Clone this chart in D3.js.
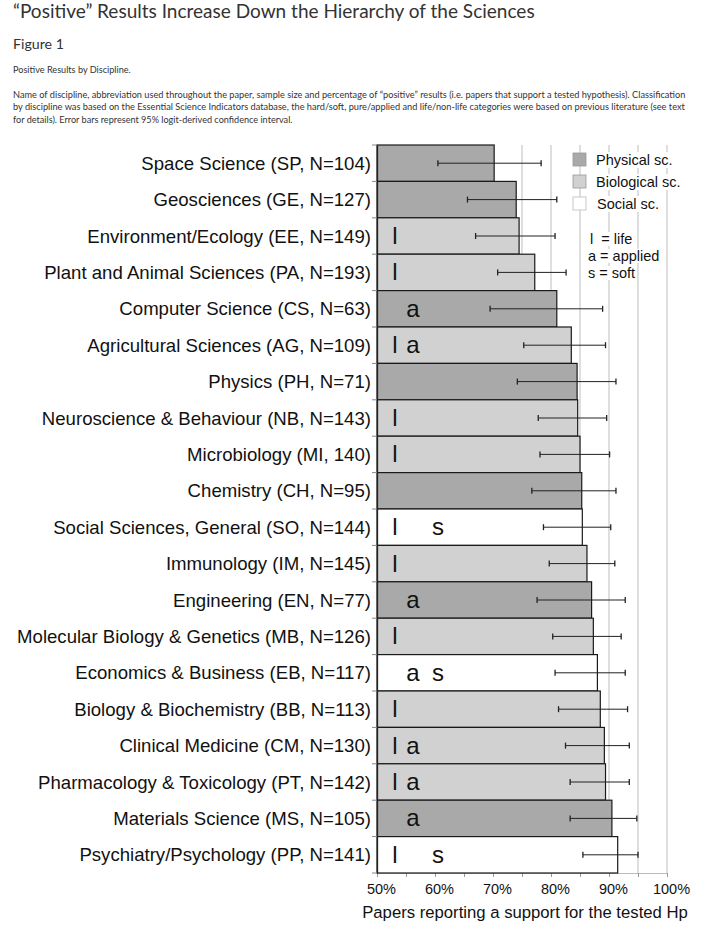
<!DOCTYPE html>
<html><head><meta charset="utf-8">
<script src="https://cdn.jsdelivr.net/npm/d3@7/dist/d3.min.js"></script>
<style>
html,body{margin:0;padding:0;background:#fff;}
svg{display:block;}
</style></head>
<body>
<svg id="c" width="714" height="926"></svg>
<script>
const disciplines = ["Space Science (SP, N=104)","Geosciences (GE, N=127)","Environment/Ecology (EE, N=149)","Plant and Animal Sciences (PA, N=193)","Computer Science (CS, N=63)","Agricultural Sciences (AG, N=109)","Physics (PH, N=71)","Neuroscience & Behaviour (NB, N=143)","Microbiology (MI, 140)","Chemistry (CH, N=95)","Social Sciences, General (SO, N=144)","Immunology (IM, N=145)","Engineering (EN, N=77)","Molecular Biology & Genetics (MB, N=126)","Economics & Business (EB, N=117)","Biology & Biochemistry (BB, N=113)","Clinical Medicine (CM, N=130)","Pharmacology & Toxicology (PT, N=142)","Materials Science (MS, N=105)","Psychiatry/Psychology (PP, N=141)"];
const values = [70.2,74.0,74.5,77.2,81.0,83.5,84.5,84.6,85.0,85.3,85.4,86.2,87.0,87.3,88.0,88.5,89.2,89.4,90.5,91.5];
const ciLow  = [60.5,65.6,67.0,70.8,69.5,75.3,74.2,77.8,78.1,76.7,78.7,79.7,77.6,80.3,80.7,81.3,82.5,83.3,83.3,85.5];
const ciHigh = [78.3,81.0,80.7,82.6,88.9,89.4,91.2,89.6,90.1,91.2,90.3,91.0,92.8,92.1,92.8,93.2,93.5,93.5,94.8,95.0];
const groups = ["Physical","Physical","Biological","Biological","Physical","Biological","Physical","Biological","Biological","Physical","Social","Biological","Physical","Biological","Social","Biological","Biological","Biological","Physical","Social"];
const flags  = ["","","l","l","a","la","","l","l","","ls","l","a","l","as","l","la","la","a","ls"];
const legendLabels = ["Physical sc.","Biological sc.","Social sc."];
const legendGroups = ["Physical","Biological","Social"];
const keyLines = ["l  = life","a = applied","s = soft"];
const xTicks = [50,60,70,80,90,100];
const gridTicks = [55,60,65,70,75,80,85,90,95,100];

const svg = d3.select("#c");
const color = d3.scaleOrdinal().domain(legendGroups).range(["#a9a9a9","#d1d1d1","#ffffff"]);

// header
const hdr = svg.append("g").attr("fill","#333");
function fit(sel, w){ const n=sel.node(); const cur=n.getComputedTextLength(); const fs=parseFloat(sel.attr("font-size")); sel.attr("font-size", fs*w/cur); }
const t1 = hdr.append("text").attr("x",13).attr("y",18).attr("font-family","Lato").attr("font-size",18).text("\u201cPositive\u201d Results Increase Down the Hierarchy of the Sciences");
fit(t1,522);
const t2 = hdr.append("text").attr("x",13).attr("y",49).attr("font-family","Lato").attr("font-size",13).text("Figure 1");
fit(t2,51);
const t3 = hdr.append("text").attr("x",13).attr("y",73).attr("font-family","Lato").attr("font-size",8).text("Positive Results by Discipline.");
fit(t3,118);
const capLines = ["Name of discipline, abbreviation used throughout the paper, sample size and percentage of \u201cpositive\u201d results (i.e. papers that support a tested hypothesis). Classification",
"by discipline was based on the Essential Science Indicators database, the hard/soft, pure/applied and life/non-life categories were based on previous literature (see text",
"for details). Error bars represent 95% logit-derived confidence interval."];
const capW = [673,673,280];
capLines.forEach((s,i)=>{
  const t = hdr.append("text").attr("x",13).attr("y",98+i*12.3).attr("font-family","Lato").attr("font-size",8).text(s);
  fit(t,capW[i]);
});

// chart
const x = d3.scaleLinear().domain([50,100]).range([377,667]);
const y = d3.scaleBand().domain(disciplines).range([145,873]).padding(0);
const g = svg.append("g");

// gridlines
g.selectAll(".grid").data(gridTicks).enter().append("line")
  .attr("x1",d=>x(d)).attr("x2",d=>x(d)).attr("y1",145).attr("y2",873)
  .attr("stroke","#c9c9c9").attr("stroke-width",1.2);

// bottom axis
const xAxis = d3.axisBottom(x).tickValues(d3.range(50,101,5)).tickSize(4).tickFormat(d=> xTicks.includes(d)? d+"%":"");
const ax = g.append("g").attr("transform","translate(0,873)").call(xAxis);
ax.select(".domain").attr("stroke","#bbb");
ax.selectAll(".tick line").attr("stroke","#999");
ax.selectAll(".tick text").attr("font-family","Liberation Sans, Arial, sans-serif").attr("font-size",14.5).attr("fill","#111").attr("dy","0.95em").attr("dx",4);

// bars
g.selectAll(".bar").data(disciplines).enter().append("rect")
  .attr("x",x(50)).attr("y",d=>y(d)).attr("width",(d,i)=>x(values[i])-x(50)).attr("height",y.bandwidth())
  .attr("fill",(d,i)=>color(groups[i])).attr("stroke","#1a1a1a").attr("stroke-width",1.2);

// error bars
const eb = g.selectAll(".eb").data(disciplines).enter().append("g");
eb.append("line").attr("x1",(d,i)=>x(ciLow[i])).attr("x2",(d,i)=>x(ciHigh[i]))
  .attr("y1",d=>y(d)+y.bandwidth()/2).attr("y2",d=>y(d)+y.bandwidth()/2).attr("stroke","#222").attr("stroke-width",1);
eb.append("line").attr("x1",(d,i)=>x(ciLow[i])).attr("x2",(d,i)=>x(ciLow[i]))
  .attr("y1",d=>y(d)+y.bandwidth()/2-3).attr("y2",d=>y(d)+y.bandwidth()/2+3).attr("stroke","#222").attr("stroke-width",1.3);
eb.append("line").attr("x1",(d,i)=>x(ciHigh[i])).attr("x2",(d,i)=>x(ciHigh[i]))
  .attr("y1",d=>y(d)+y.bandwidth()/2-3).attr("y2",d=>y(d)+y.bandwidth()/2+3).attr("stroke","#222").attr("stroke-width",1.3);

// flags in bars
const flagX = {l:395, a:413, s:438};
disciplines.forEach((d,i)=>{
  flags[i].split("").forEach(f=>{
    g.append("text").attr("x",flagX[f]).attr("y",y(d)+y.bandwidth()/2+8).attr("text-anchor","middle")
      .attr("font-family","Liberation Sans, Arial, sans-serif").attr("font-size",24).attr("fill","#111").text(f);
  });
});

// y axis
const yAxis = d3.axisLeft(y).tickSize(0).tickPadding(6);
const ay = g.append("g").attr("transform","translate(377,0)").call(yAxis);
ay.select(".domain").attr("stroke","#222").attr("stroke-width",1.3);
ay.selectAll(".tick text").attr("font-family","Liberation Sans, Arial, sans-serif").attr("font-size",18.6).attr("fill","#111").attr("dy","0.35em");
// band boundary ticks
g.selectAll(".ytick").data(disciplines.concat(["_end"])).enter().append("line")
  .attr("x1",372).attr("x2",377).attr("y1",(d,i)=> i<disciplines.length? y(d): 873).attr("y2",(d,i)=> i<disciplines.length? y(d): 873)
  .attr("stroke","#888");

// x label
g.append("text").attr("x",525).attr("y",918).attr("text-anchor","middle")
  .attr("font-family","Liberation Sans, Arial, sans-serif").attr("font-size",16.7).attr("fill","#111")
  .text("Papers reporting a support for the tested Hp");

// legend
const lg = g.append("g");
legendLabels.forEach((lab,i)=>{
  const yy = 153 + i*22;
  lg.append("rect").attr("x",573).attr("y",yy).attr("width",13).attr("height",13)
    .attr("fill",color(legendGroups[i])).attr("stroke", i===2? "#bbb":"#999").attr("stroke-width",0.8);
  const t = lg.append("text").attr("x", i===2?597:596).attr("y",yy+12).attr("font-family","Liberation Sans, Arial, sans-serif")
    .attr("font-size",14.5).attr("fill","#111").text(lab);
  const b = t.node().getBBox();
  lg.insert("rect", "text").attr("x",b.x-2).attr("y",b.y).attr("width",b.width+4).attr("height",b.height).attr("fill","#fff");
});
keyLines.forEach((s,i)=>{
  const t = lg.append("text").attr("x", i===0?590:588).attr("y",244+i*17).attr("font-family","Liberation Sans, Arial, sans-serif")
    .attr("font-size",14.5).attr("fill","#111").attr("xml:space","preserve").style("white-space","pre").text(s);
  const b = t.node().getBBox();
  lg.insert("rect", "text").attr("x",b.x-1).attr("y",b.y+1).attr("width",b.width+2).attr("height",b.height-2).attr("fill","#fff");
});
</script>
</body></html>
